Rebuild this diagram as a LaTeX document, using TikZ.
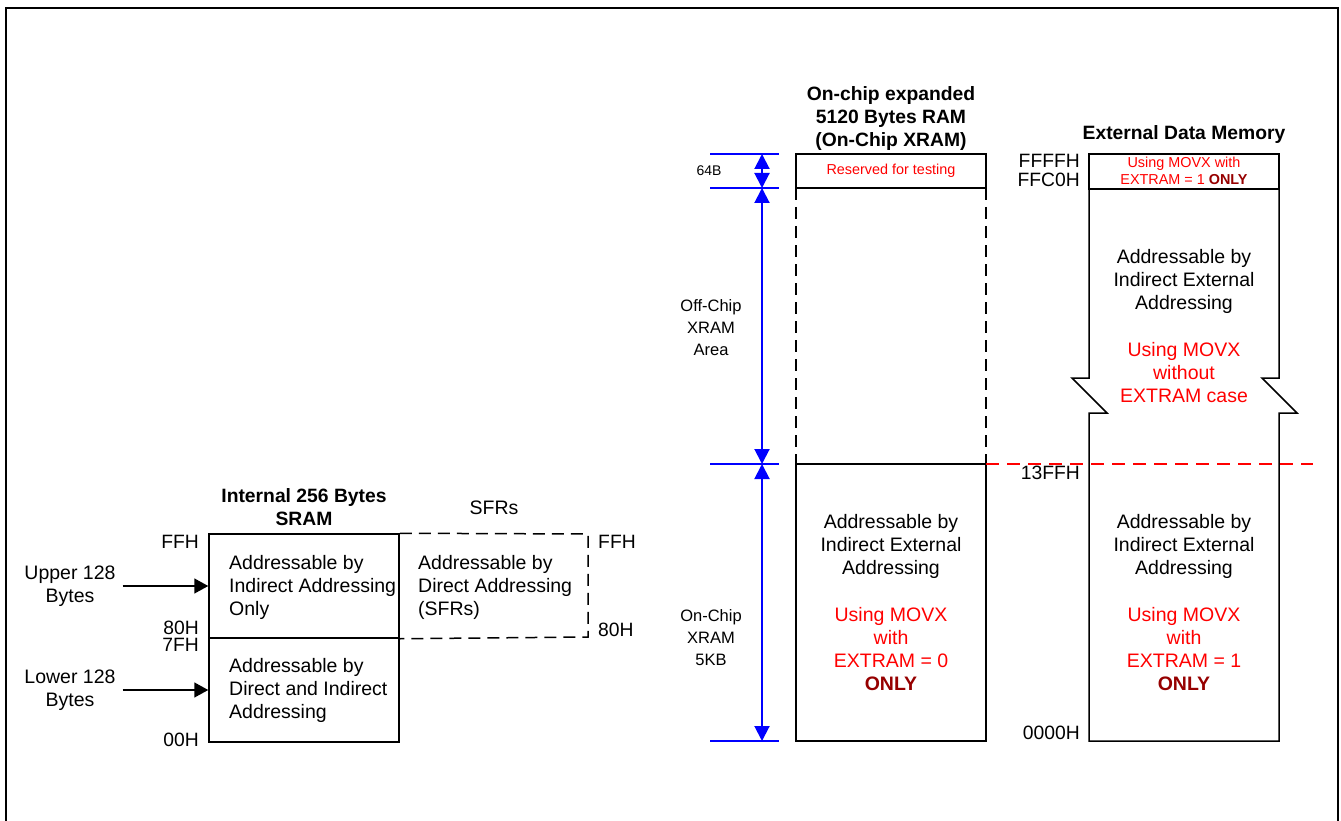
\documentclass[tikz,border=0pt]{standalone}
\usepackage{fontspec}
\setmainfont{Liberation Sans}
\usetikzlibrary{arrows.meta,positioning,calc}
\definecolor{memred}{RGB}{255,0,0}
\definecolor{onlyred}{RGB}{150,0,0}
\definecolor{dimblue}{RGB}{0,0,255}
\newcommand{\onlytag}{\textcolor{onlyred}{\bfseries ONLY}}

\begin{document}
\begin{tikzpicture}[x=1pt,y=-1pt,
        txt/.style={inner sep=0pt, align=center, font=\fontsize{19.5}{23}\selectfont},
        ttl/.style={txt, font=\fontsize{19.3}{23}\selectfont\bfseries},
        small/.style={inner sep=0pt, align=center, font=\fontsize{14.4}{17}\selectfont},
        side/.style={inner sep=0pt, align=center, font=\fontsize{16.5}{22}\selectfont},
        addr/.style={inner sep=0pt, font=\fontsize{19.3}{23}\selectfont},
        cell/.style={draw, line width=1.5pt, inner sep=0pt, minimum width=190pt},
        wall/.style={line width=1.5pt},
        dashbox/.style={line width=1.5pt, dash pattern=on 12pt off 7pt},
        reddash/.style={memred, line width=1.5pt, dash pattern=on 13pt off 8pt},
        tick/.style={dimblue, line width=2pt},
        dim/.style={tick, {Triangle[length=15pt,width=15pt]}-{Triangle[length=15pt,width=15pt]}},
        arrow/.style={-{Triangle[length=14pt,width=15pt]}, line width=1.5pt}
    ]
        \useasboundingbox (0,0) rectangle (1341,821);
        \draw[line width=2pt] (6,830) -- (6,8) -- (1338,8) -- (1338,830);

        % internal SRAM and SFRs
        \node[ttl] (sramttl) at (304,507) {Internal 256 Bytes\\SRAM};
        \node[txt] (sfrttl) at (494,508) {SFRs};
        \node[cell, minimum height=104pt] (hi) at (304,586) {};
        \node[cell, minimum height=104pt] (lo) at (304,690) {};
        \draw[dashbox] (hi.north east) -- (588,534) -- (588,637) -- (hi.south east);
        \node[txt, anchor=west, align=left] (hitxt) at (229,587) {Addressable by\\Indirect Addressing\\Only};
        \node[txt, anchor=west, align=left] (lotxt) at (229,690) {Addressable by\\Direct and Indirect\\Addressing};
        \node[txt, anchor=west, align=left] (sfrtxt) at (418,587) {Addressable by\\Direct Addressing\\(SFRs)};
        \node[txt] (upper) at (70,586) {Upper 128\\Bytes};
        \node[txt] (lower) at (70,690) {Lower 128\\Bytes};
        \draw[arrow, shorten <=7pt] (upper.east) -- (hi.west);
        \draw[arrow, shorten <=7pt] (lower.east) -- (lo.west);
        \node[addr, anchor=east] (ffh) at (199,542) {FFH};
        \node[addr, anchor=east] (h80) at (199,628) {80H};
        \node[addr, anchor=east] (h7f) at (199,645) {7FH};
        \node[addr, anchor=east] (h00) at (199,740) {00H};
        \node[addr, anchor=west] (sffh) at (598,542) {FFH};
        \node[addr, anchor=west] (s80h) at (598,630) {80H};

        % on-chip XRAM
        \node[ttl] (xttl) at (891,119) {On-chip expanded\\5120 Bytes RAM\\(On-Chip XRAM)};
        \draw[wall] (796,154) rectangle (986,188);
        \draw[dashbox] (796,188) -- (796,464) (986,188) -- (986,464);
        \draw[wall] (796,464) rectangle (986,741);
        \node[small, memred] (rsv) at (891,171) {Reserved for testing};
        \node[txt] (xlotxt) at (891,546) {Addressable by\\Indirect External\\Addressing};
        \node[txt, memred] (xlored) at (891,649) {Using MOVX\\with\\EXTRAM = 0\\\onlytag};

        % size marks
        \coordinate (d0) at (762,154);
        \coordinate (d1) at (762,188);
        \coordinate (d2) at (762,464);
        \coordinate (d3) at (762,741);
        \foreach \y in {154,188,464,741}
            \draw[tick] (710,\y) -- (779,\y);
        \draw[dim] (d0) -- (d1);
        \draw[dim] (d1) -- (d2);
        \draw[dim] (d2) -- (d3);
        \node[small, font=\fontsize{14}{17}\selectfont] (b64) at (709,171) {64B};
        \node[side] (offchip) at (711,328) {Off-Chip\\XRAM\\Area};
        \node[side] (onchip) at (711,638) {On-Chip\\XRAM\\5KB};

        % external data memory
        \node[ttl] (ettl) at (1184,135) {External Data Memory};
        \draw[wall] (1089,154) rectangle (1279,189);
        \draw[wall] (1089,189) -- (1089,378) -- (1072,378) -- (1107,413) -- (1089,413)
            -- (1089,741) -- (1279,741) -- (1279,413) -- (1297,413) -- (1262,378)
            -- (1279,378) -- (1279,189);
        \draw[reddash] (986,464) -- (1313,464);
        \node[small, memred] (etop) at (1184,171) {Using MOVX with\\EXTRAM = 1 \onlytag};
        \node[txt] (ehitxt) at (1184,281) {Addressable by\\Indirect External\\Addressing};
        \node[txt, memred] (ehired) at (1184,373) {Using MOVX\\without\\EXTRAM case};
        \node[txt] (elotxt) at (1184,546) {Addressable by\\Indirect External\\Addressing};
        \node[txt, memred] (elored) at (1184,649) {Using MOVX\\with\\EXTRAM = 1\\\onlytag};
        \node[addr, anchor=east] (fffff) at (1080,161) {FFFFH};
        \node[addr, anchor=east] (ffc0) at (1080,180) {FFC0H};
        \node[addr, anchor=east] (h13ff) at (1080,473) {13FFH};
        \node[addr, anchor=east] (h0000) at (1080,733) {0000H};
    \end{tikzpicture}
\end{document}
